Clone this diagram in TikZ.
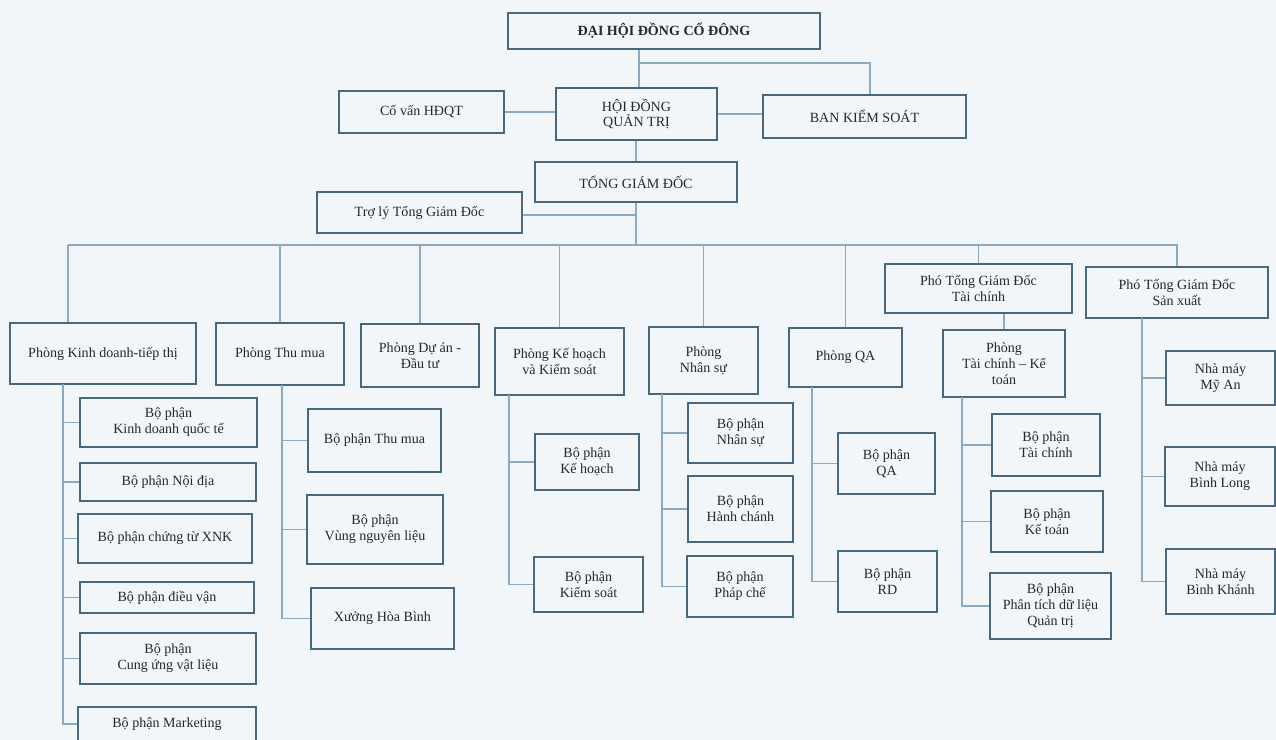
\documentclass[tikz,border=0pt]{standalone}
\usepackage{fontspec}
\setmainfont{Liberation Serif}
\definecolor{bgcol}{RGB}{243,246,249}
\definecolor{boxcol}{RGB}{72,104,126}
\definecolor{linkcol}{RGB}{138,170,192}
\definecolor{txtcol}{RGB}{40,40,44}
\begin{document}
\begin{tikzpicture}[x=0.02cm, y=-0.02cm,
	box/.style={draw=boxcol, line width=0.8pt, fill=bgcol, text=txtcol, align=center, inner sep=1pt, font=\fontsize{8}{9}\selectfont},
	link/.style={draw=linkcol, line width=0.6pt}]
	\useasboundingbox (0,0) rectangle (1276,740);
	\fill[bgcol] (0,0) rectangle (1276,740);

	% top levels
	\node[box, minimum width=6.24cm, minimum height=0.72cm, font=\fontsize{8}{9}\selectfont\bfseries] (dhcd) at (664,31) {ĐẠI HỘI ĐỒNG CỔ ĐÔNG};
	\node[box, minimum width=3.30cm, minimum height=0.84cm] (cv) at (421.5,112) {Cố vấn HĐQT};
	\node[box, minimum width=3.22cm, minimum height=1.04cm] (hdqt) at (636.5,114) {HỘI ĐỒNG\\QUẢN TRỊ};
	\node[box, minimum width=4.06cm, minimum height=0.86cm] (bks) at (864.5,116.5) {BAN KIỂM SOÁT};
	\node[box, minimum width=4.04cm, minimum height=0.80cm] (tgd) at (636,182) {TỔNG GIÁM ĐỐC};
	\node[box, minimum width=4.10cm, minimum height=0.82cm] (tl) at (419.5,212.5) {Trợ lý Tổng Giám Đốc};

	% phong ban
	\node[box, minimum width=3.72cm, minimum height=1.22cm] (pkd) at (103,353.5) {Phòng Kinh doanh-tiếp thị};
	\node[box, minimum width=2.56cm, minimum height=1.24cm] (ptm) at (280,354) {Phòng Thu mua};
	\node[box, minimum width=2.36cm, minimum height=1.26cm] (pda) at (420,355.5) {Phòng Dự án -\\Đầu tư};
	\node[box, minimum width=2.58cm, minimum height=1.34cm] (pkh) at (559.5,361.5) {Phòng Kế hoạch\\và Kiểm soát};
	\node[box, minimum width=2.18cm, minimum height=1.34cm] (pns) at (703.5,360.5) {Phòng\\Nhân sự};
	\node[box, minimum width=2.26cm, minimum height=1.18cm] (pqa) at (845.5,357.5) {Phòng QA};
	\node[box, minimum width=3.74cm, minimum height=0.98cm] (ptc) at (978.5,288.5) {Phó Tổng Giám Đốc\\Tài chính};
	\node[box, minimum width=3.64cm, minimum height=1.02cm] (psx) at (1177,292.5) {Phó Tổng Giám Đốc\\Sản xuất};
	\node[box, minimum width=2.44cm, minimum height=1.34cm] (ptckt) at (1004,363.5) {Phòng\\Tài chính – Kế\\toán};

	% bo phan
	\node[box, minimum width=3.54cm, minimum height=0.98cm] (kdqt) at (168.5,422.5) {Bộ phận\\Kinh doanh quốc tế};
	\node[box, minimum width=3.52cm, minimum height=0.76cm] (noidia) at (168,482) {Bộ phận Nội địa};
	\node[box, minimum width=3.48cm, minimum height=0.98cm] (ctxnk) at (165,538.5) {Bộ phận chứng từ XNK};
	\node[box, minimum width=3.48cm, minimum height=0.62cm] (dieuvan) at (167,597.5) {Bộ phận điều vận};
	\node[box, minimum width=3.52cm, minimum height=1.02cm] (cungung) at (168,658.5) {Bộ phận\\Cung ứng vật liệu};
	\node[box, minimum width=3.56cm, minimum height=0.68cm] (mkt) at (167,724) {Bộ phận Marketing};

	\node[box, minimum width=2.66cm, minimum height=1.26cm] (bptm) at (374.5,440.5) {Bộ phận Thu mua};
	\node[box, minimum width=2.72cm, minimum height=1.38cm] (vnl) at (375,529.5) {Bộ phận\\Vùng nguyên liệu};
	\node[box, minimum width=2.86cm, minimum height=1.22cm] (xhb) at (382.5,618.5) {Xưởng Hòa Bình};

	\node[box, minimum width=2.08cm, minimum height=1.12cm] (bpkh) at (587,462) {Bộ phận\\Kế hoạch};
	\node[box, minimum width=2.18cm, minimum height=1.10cm] (bpks) at (588.5,584.5) {Bộ phận\\Kiểm soát};

	\node[box, minimum width=2.10cm, minimum height=1.20cm] (bpns) at (740.5,433) {Bộ phận\\Nhân sự};
	\node[box, minimum width=2.10cm, minimum height=1.32cm] (bphc) at (740.5,509) {Bộ phận\\Hành chánh};
	\node[box, minimum width=2.12cm, minimum height=1.22cm] (bppc) at (740,586.5) {Bộ phận\\Pháp chế};

	\node[box, minimum width=1.94cm, minimum height=1.22cm] (bpqa) at (886.5,463.5) {Bộ phận\\QA};
	\node[box, minimum width=1.98cm, minimum height=1.22cm] (bprd) at (887.5,581.5) {Bộ phận\\RD};

	\node[box, minimum width=2.16cm, minimum height=1.24cm] (bptc) at (1046,445) {Bộ phận\\Tài chính};
	\node[box, minimum width=2.24cm, minimum height=1.22cm] (bpkt) at (1047,521.5) {Bộ phận\\Kế toán};
	\node[box, minimum width=2.42cm, minimum height=1.32cm] (bpdl) at (1050.5,606) {Bộ phận\\Phân tích dữ liệu\\Quản trị};

	\node[box, minimum width=2.18cm, minimum height=1.08cm] (nmma) at (1220.5,378) {Nhà máy\\Mỹ An};
	\node[box, minimum width=2.20cm, minimum height=1.18cm] (nmbl) at (1220,476.5) {Nhà máy\\Bình Long};
	\node[box, minimum width=2.18cm, minimum height=1.30cm] (nmbk) at (1220.5,581.5) {Nhà máy\\Bình Khánh};

	% junctions
	\coordinate (j1) at (639,63);
	\coordinate (j2) at (870,63);
	\coordinate (tj) at (636,215);
	\coordinate (bus) at (68,245);
	\coordinate (kd) at (63,384);
	\coordinate (tm) at (282,385);
	\coordinate (kh) at (509,395);
	\coordinate (ns) at (662,394);
	\coordinate (qa) at (812,387);
	\coordinate (tckt) at (962,397);
	\coordinate (sx) at (1142,318);

	\draw[link] (dhcd.south -| j1) -- (hdqt.north -| j1);
	\draw[link] (j1) -- (j2) -- (j2 |- bks.north);
	\draw[link] (cv.east) -- (cv.east -| hdqt.west);
	\draw[link] (hdqt.east) -- (hdqt.east -| bks.west);
	\draw[link] (hdqt.south -| tgd.north) -- (tgd.north);
	\draw[link] (tgd.south) -- (tgd.south |- bus);
	\draw[link] (tl.east |- tj) -- (tj);
	\draw[link] (bus) -| (psx.north);
	\draw[link] (bus) -- (bus |- pkd.north);
	\draw[link] (ptm.north |- bus) -- (ptm.north);
	\draw[link] (pda.north |- bus) -- (pda.north);
	\draw[link] (pkh.north |- bus) -- (pkh.north);
	\draw[link] (pns.north |- bus) -- (pns.north);
	\draw[link] (pqa.north |- bus) -- (pqa.north);
	\draw[link] (ptc.north |- bus) -- (ptc.north);
	\draw[link] (ptckt.north |- ptc.south) -- (ptckt.north);

	\draw[link] (kd) |- (kdqt.west);
	\draw[link] (kd) |- (noidia.west);
	\draw[link] (kd) |- (ctxnk.west);
	\draw[link] (kd) |- (dieuvan.west);
	\draw[link] (kd) |- (cungung.west);
	\draw[link] (kd) |- (mkt.west);

	\draw[link] (tm) |- (bptm.west);
	\draw[link] (tm) |- (vnl.west);
	\draw[link] (tm) |- (xhb.west);

	\draw[link] (kh) |- (bpkh.west);
	\draw[link] (kh) |- (bpks.west);

	\draw[link] (ns) |- (bpns.west);
	\draw[link] (ns) |- (bphc.west);
	\draw[link] (ns) |- (bppc.west);

	\draw[link] (qa) |- (bpqa.west);
	\draw[link] (qa) |- (bprd.west);

	\draw[link] (tckt) |- (bptc.west);
	\draw[link] (tckt) |- (bpkt.west);
	\draw[link] (tckt) |- (bpdl.west);

	\draw[link] (sx) |- (nmma.west);
	\draw[link] (sx) |- (nmbl.west);
	\draw[link] (sx) |- (nmbk.west);
\end{tikzpicture}
\end{document}
